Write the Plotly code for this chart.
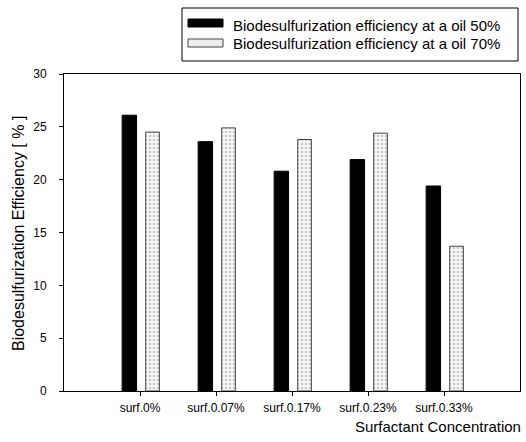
import plotly.graph_objects as go

categories = ["surf.0%", "surf.0.07%", "surf.0.17%", "surf.0.23%", "surf.0.33%"]
oil50 = [26.1, 23.6, 20.8, 21.9, 19.4]
oil70 = [24.5, 24.9, 23.8, 24.4, 13.7]
series_names = ["Biodesulfurization efficiency at a oil 50%",
                "Biodesulfurization efficiency at a oil 70%"]
y_ticks = [0, 5, 10, 15, 20, 25, 30]

FONT = "Arial, Liberation Sans, sans-serif"

fig = go.Figure()
fig.add_trace(go.Bar(
    x=categories, y=oil50, name=series_names[0],
    marker=dict(color="black", line=dict(color="black", width=1)),
    width=0.19, offset=-0.235, showlegend=False,
))
fig.add_trace(go.Bar(
    x=categories, y=oil70, name=series_names[1],
    marker=dict(color="white", line=dict(color="#444", width=1),
                pattern=dict(shape=".", fgcolor="#999", bgcolor="#f6f6f6",
                             size=4, solidity=0.3)),
    width=0.18, offset=0.075, showlegend=False,
))

# Custom legend (box, swatches, labels) in paper coordinates
H = 317.0  # plot height in px
def py(p):  # pixel y -> paper y
    return (391 - p) / H
W = 456.0
def px(p):  # pixel x -> paper x
    return (p - 64) / W

shapes = [
    dict(type="rect", xref="paper", yref="paper", x0=px(182), x1=px(518),
         y0=py(61), y1=py(8), line=dict(color="black", width=1), fillcolor="white"),
    dict(type="rect", xref="paper", yref="paper", x0=px(188), x1=px(223),
         y0=py(27), y1=py(19), line=dict(color="black", width=1), fillcolor="black"),
    dict(type="rect", xref="paper", yref="paper", x0=px(188), x1=px(223),
         y0=py(47), y1=py(39), line=dict(color="#444", width=1), fillcolor="#eeeeee"),
]
annotations = []
for i, nm in enumerate(series_names):
    annotations.append(dict(
        text=nm, xref="paper", yref="paper", x=px(231), y=py(25 + 19 * i),
        xanchor="left", yanchor="middle", showarrow=False,
        font=dict(family=FONT, size=15, color="black")))

annotations.append(dict(
    text="Surfactant Concentration", xref="paper", yref="paper", x=1, y=0,
    xanchor="right", yanchor="middle", xshift=3, yshift=-35, showarrow=False,
    font=dict(family=FONT, size=15, color="black")))
annotations.append(dict(
    text="Biodesulfurization Efficiency [ % ]", xref="paper", yref="paper",
    x=0, y=py(234), xshift=-46, xanchor="center", yanchor="middle",
    textangle=-90, showarrow=False,
    font=dict(family=FONT, size=16, color="black")))

fig.update_layout(
    width=526, height=442,
    margin=dict(l=64, r=6, t=74, b=51),
    paper_bgcolor="white", plot_bgcolor="white",
    font=dict(family=FONT, size=12, color="black"),
    barmode="group",
    shapes=shapes, annotations=annotations,
    showlegend=False,
)
fig.update_xaxes(
    type="category", categoryorder="array", categoryarray=categories,
    range=[-1, 5], showline=True, linecolor="black", linewidth=1, mirror=True,
    ticks="outside", ticklen=4, tickcolor="black", showgrid=False,
    tickfont=dict(size=12), ticklabelstandoff=2,
)
fig.update_yaxes(
    range=[0, 30], tickvals=y_ticks, showline=True, linecolor="black",
    linewidth=1, mirror=True, ticks="outside", ticklen=4, tickcolor="black",
    showgrid=False, zeroline=False, tickfont=dict(size=12), ticklabelstandoff=10,
)

fig.write_html("out.html")
